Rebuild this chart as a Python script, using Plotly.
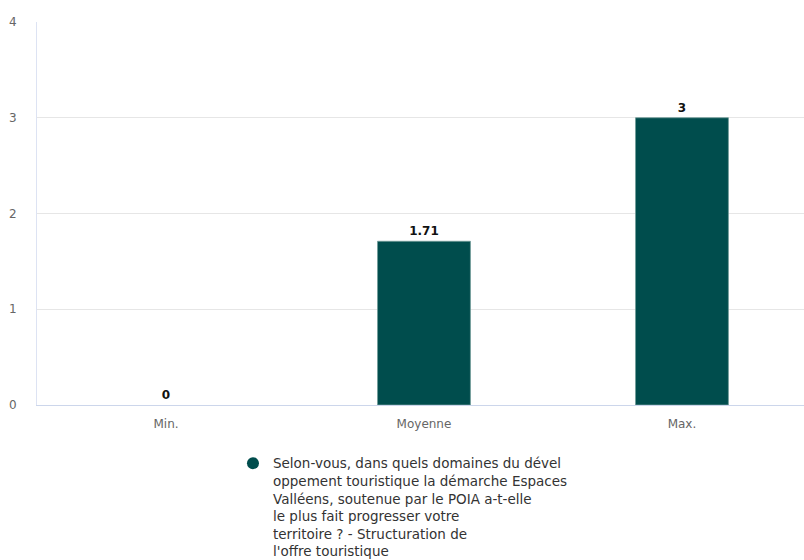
import plotly.graph_objects as go

categories = ["Min.", "Moyenne", "Max."]
values = [0, 1.71, 3]
value_labels = ["0", "1.71", "3"]
series_name = ("Selon-vous, dans quels domaines du dével<br>oppement touristique la démarche Espaces<br>"
               "Valléens, soutenue par le POIA a-t-elle<br>le plus fait progresser votre<br>"
               "territoire ? - Structuration de<br>l'offre touristique")
y_ticks = [0, 1, 2, 3, 4]

bar_color = "#004d4d"
font_family = "DejaVu Sans"

fig = go.Figure()
fig.add_trace(go.Bar(
    x=categories, y=values, text=value_labels,
    textposition="outside", cliponaxis=False,
    textfont=dict(family=font_family, size=12, color="#111111", weight="bold"),
    marker=dict(color=bar_color,
                line=dict(color="#6f9a97", width=[0.8 if v else 0 for v in values])),
    width=0.36, showlegend=False, hoverinfo="x+y",
))
# legend entry with a round marker
fig.add_trace(go.Scatter(
    x=[None], y=[None], mode="markers", name=series_name,
    marker=dict(symbol="circle", size=13, color=bar_color),
    showlegend=True,
))

fig.update_layout(
    width=804, height=560,
    margin=dict(l=37, r=0, t=22, b=155, autoexpand=False),
    plot_bgcolor="white", paper_bgcolor="white",
    font=dict(family=font_family, color="#666666", size=11),
    bargap=0.64,
    legend=dict(
        x=0.2555, xanchor="left", y=-0.112, yanchor="top",
        valign="top",
        font=dict(family=font_family, size=13.5, color="#333333"),
        itemsizing="constant", tracegroupgap=0,
        bgcolor="rgba(0,0,0,0)",
    ),
)
fig.update_xaxes(
    type="category", range=[-0.5, 2.473],
    showline=True, linecolor="#ccd6eb", linewidth=1,
    showgrid=False, ticks="", ticklabelstandoff=8,
    tickfont=dict(family=font_family, size=12, color="#666666"),
)
fig.update_yaxes(
    range=[0, 4], tickvals=y_ticks,
    showline=True, linecolor="#dde3f3", linewidth=1,
    showgrid=True, gridcolor="#e6e6e6", gridwidth=1,
    zeroline=False, ticks="", ticklabelstandoff=17,
    tickfont=dict(family=font_family, size=12, color="#666666"),
)

fig.write_html("out.html")
